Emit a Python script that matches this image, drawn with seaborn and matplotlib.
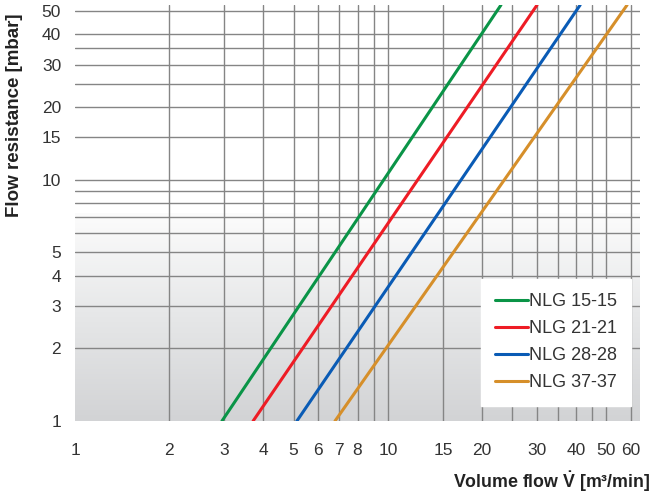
import numpy as np
import pandas as pd
import matplotlib
matplotlib.use("Agg")
import matplotlib.pyplot as plt
import seaborn as sns
from matplotlib.colors import LinearSegmentedColormap
from matplotlib.ticker import FixedLocator, FixedFormatter, NullLocator

# ---- data ----
series = ["NLG 15-15", "NLG 21-21", "NLG 28-28", "NLG 37-37"]
flow_at_bottom = [2.95, 3.71, 5.12, 6.78]      # m³/min at 1 mbar
flow_at_top = [23.0, 30.0, 41.2, 58.2]         # m³/min at top of chart
resistance_bottom = 1.0
resistance_top = 53.0
colors = ["#0a9447", "#ee1c25", "#0a5bb5", "#d68f2a"]

x_ticks = [1, 2, 3, 4, 5, 6, 7, 8, 10, 15, 20, 30, 40, 50, 60]
x_grid = [2, 3, 4, 5, 6, 7, 8, 9, 10, 15, 20, 25, 30, 35, 40, 45, 50, 60]
y_ticks = [1, 2, 3, 4, 5, 10, 15, 20, 30, 40, 50]
y_grid = [2, 3, 4, 5, 6, 7, 8, 9, 10, 15, 20, 25, 30, 35, 40, 50]

rows = []
for name, x0, x1 in zip(series, flow_at_bottom, flow_at_top):
    rows.append({"series": name, "flow": x0, "resistance": resistance_bottom})
    rows.append({"series": name, "flow": x1, "resistance": resistance_top})
df = pd.DataFrame(rows)

sns.set_theme(style="white")
plt.rcParams["font.family"] = ["Liberation Sans", "DejaVu Sans"]
plt.rcParams["mathtext.fontset"] = "custom"
plt.rcParams["mathtext.rm"] = "Liberation Sans"
plt.rcParams["mathtext.bf"] = "Liberation Sans:bold"

W, H = 653, 499
fig = plt.figure(figsize=(W / 100, H / 100), dpi=100)
L, R, T, B = 75, 640, 5, 421
ax = fig.add_axes([L / W, 1 - B / H, (R - L) / W, (B - T) / H])

# background gradient (white top half, grey toward bottom)
grad = np.linspace(0, 1, 256).reshape(-1, 1)
cmap = LinearSegmentedColormap.from_list("bg", ["#d2d3d5", "#e6e7e8", "#fcfcfc"])
ax.imshow(grad, cmap=cmap, origin="lower", aspect="auto",
          extent=[0, 1, 0, 0.5], transform=ax.transAxes, zorder=0)

sns.lineplot(data=df, x="flow", y="resistance", hue="series",
             palette=colors, linewidth=2.2, ax=ax, zorder=3, legend=True)

ax.set_xscale("log")
ax.set_yscale("log")
ax.set_xlim(1, 64)
ax.set_ylim(1, resistance_top)

# grid lines
for gx in x_grid:
    ax.axvline(gx, color="#858585", lw=1.0, zorder=1)
for gy in y_grid:
    ax.axhline(gy, color="#858585", lw=1.0, zorder=1)

ax.xaxis.set_major_locator(FixedLocator(x_ticks))
ax.xaxis.set_major_formatter(FixedFormatter([str(v) for v in x_ticks]))
ax.xaxis.set_minor_locator(NullLocator())
ax.yaxis.set_major_locator(FixedLocator(y_ticks))
ax.yaxis.set_major_formatter(FixedFormatter([str(v) for v in y_ticks]))
ax.yaxis.set_minor_locator(NullLocator())
ax.tick_params(axis="both", length=0, labelsize=12.5, colors="#333333")
ax.tick_params(axis="x", pad=16)
ax.tick_params(axis="y", pad=10)
ax.grid(False)
for s in ax.spines.values():
    s.set_visible(False)
ax.set_xlabel("")
ax.set_ylabel("")

handles, labels = ax.get_legend_handles_labels()
leg = ax.legend(handles, labels, loc="lower right",
                bbox_to_anchor=(1.0, 0.015), frameon=True, fancybox=False,
                framealpha=1, facecolor="white", edgecolor="white",
                fontsize=13, handlelength=1.8, handletextpad=0.05,
                labelspacing=0.55, borderpad=0.8)
leg.set_zorder(5)
for t in leg.get_texts():
    t.set_color("#333333")

fig.text(15 / W, 1 - 115 / H, "Flow resistance [mbar]", rotation=90,
         ha="center", va="center", fontsize=13.5, fontweight="bold",
         color="#222222")
fig.text(650 / W, 1 - 482 / H, "Volume flow $\\mathbf{\\dot{V}}$ [m\u00b3/min]",
         ha="right", va="center", fontsize=12.8, fontweight="bold",
         color="#222222")

fig.savefig("out.png", dpi=100)
